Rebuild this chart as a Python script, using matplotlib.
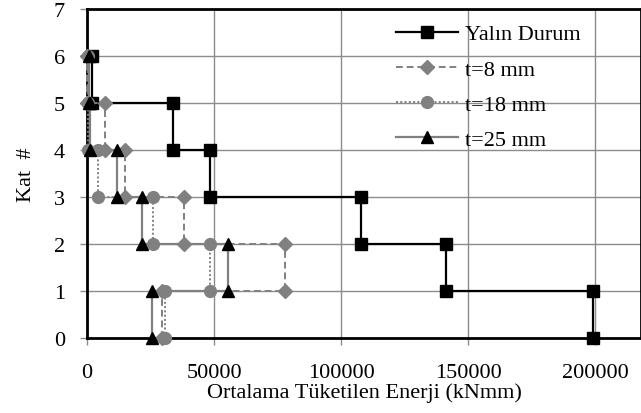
import matplotlib
matplotlib.use("Agg")
import matplotlib.pyplot as plt

plt.rcParams['font.family'] = ['Liberation Serif', 'DejaVu Serif']

# Data: (energy kNmm, story #)
yalin_x = [199000, 199000, 141400, 141400, 107800, 107800, 48200, 48200, 33800, 33800, 1800, 1800]
yalin_y = [0, 1, 1, 2, 2, 3, 3, 4, 4, 5, 5, 6]
t8_x = [29500, 29500, 77700, 77700, 38000, 38000, 14900, 14900, 7000, 7000, 0, 0]
t8_y = [0, 1, 1, 2, 2, 3, 3, 4, 4, 5, 5, 6]
t18_x = [30600, 30600, 48300, 48300, 26000, 26000, 4400, 4400, 500, 500, 300, 300]
t18_y = [0, 1, 1, 2, 2, 3, 3, 4, 4, 5, 5, 6]
t25_x = [25700, 25700, 55400, 55400, 21700, 21700, 11600, 11600, 1100, 1100, 800, 800]
t25_y = [0, 1, 1, 2, 2, 3, 3, 4, 4, 5, 5, 6]

labels = ["Yalın Durum", "t=8 mm", "t=18 mm", "t=25 mm"]
xticks = [0, 50000, 100000, 150000, 200000]
yticks = [0, 1, 2, 3, 4, 5, 6, 7]

fig = plt.figure(figsize=(6.41, 4.14), dpi=100)
ax = fig.add_axes([0.136, 0.181, 0.864, 0.795])

gray = '#808080'
ax.plot(yalin_x, yalin_y, color='black', lw=1.6, marker='s', ms=9, mfc='black', mec='black', label=labels[0], clip_on=False, zorder=3)
ax.plot(t8_x, t8_y, color=gray, lw=1.4, ls=(0, (3.5, 2)), marker='D', ms=7.2, mfc=gray, mec=gray, label=labels[1], clip_on=False, zorder=4)
ax.plot(t18_x, t18_y, color=gray, lw=1.4, ls=(0, (1, 1.2)), marker='o', ms=8.5, mfc=gray, mec=gray, label=labels[2], clip_on=False, zorder=5)
ax.plot(t25_x, t25_y, color=gray, lw=1.6, marker='^', ms=9, mfc='black', mec='black', label=labels[3], clip_on=False, zorder=6)

ax.set_xlim(0, 218000)
ax.set_ylim(0, 7)
ax.set_xticks(xticks)
ax.set_yticks(yticks)
ax.grid(True, color='#8c8c8c', lw=1.0)
ax.set_axisbelow(True)
for s in ax.spines.values():
    s.set_color('black')
    s.set_linewidth(2)
ax.tick_params(axis='both', labelsize=16, color='#8c8c8c', length=5, width=1, direction='out')
ax.tick_params(axis='x', pad=13)
ax.tick_params(axis='y', pad=11)

ax.set_xlabel("Ortalama Tüketilen Enerji (kNmm)", fontsize=16, labelpad=0)
ax.set_ylabel("Kat  #", fontsize=16, labelpad=13)

leg = ax.legend(loc='upper left', bbox_to_anchor=(0.618, 0.94), bbox_transform=fig.transFigure,
                frameon=False, fontsize=16, handlelength=2.8, handletextpad=0.3,
                labelspacing=0.66, borderaxespad=0, borderpad=0)

fig.savefig("out.png", dpi=100)
